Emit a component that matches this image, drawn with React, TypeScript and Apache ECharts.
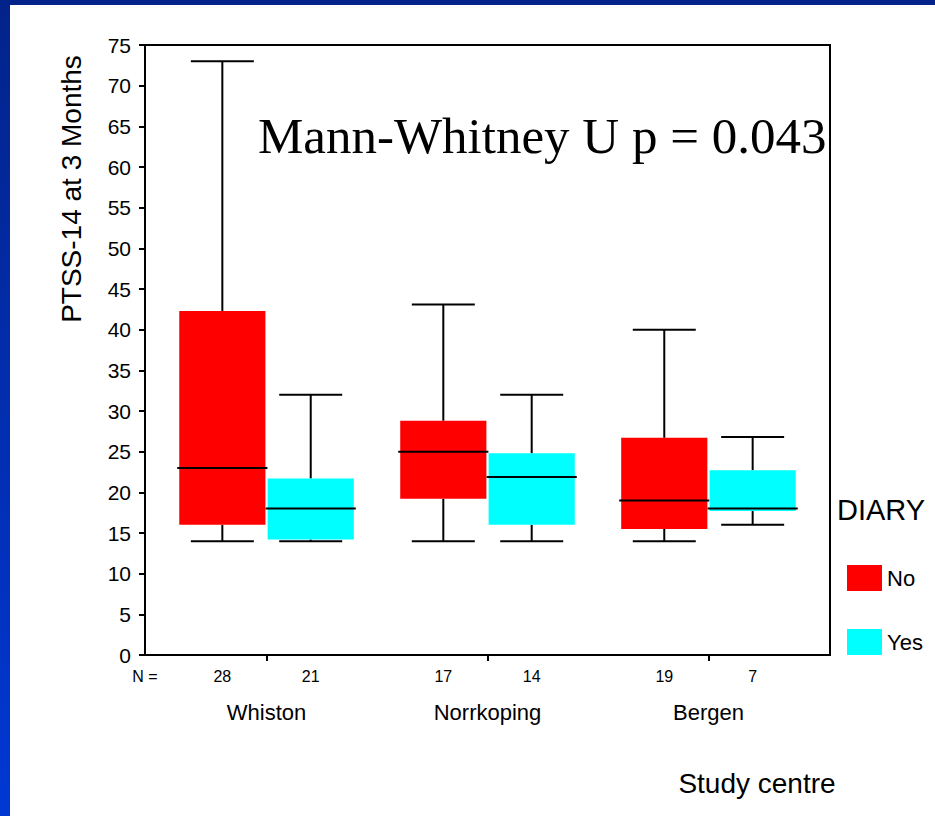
import React, { useEffect, useRef } from "react";
import * as echarts from "echarts";

// ---- data ----
const CATEGORIES = ["Whiston", "Norrkoping", "Bergen"];
const GROUPS = ["No", "Yes"];
const N_NO = [28, 17, 19];
const N_YES = [21, 14, 7];
// [min, q1, median, q3, max]
const NO_STATS = [
  [14, 16, 23, 42.3, 73],
  [14, 19.2, 25, 28.8, 43.1],
  [14, 15.5, 19, 26.7, 40],
];
const YES_STATS = [
  [14, 14.2, 18, 21.7, 32],
  [14, 16, 21.9, 24.8, 32],
  [16, 17.7, 18, 22.7, 26.8],
];
const Y_MIN = 0;
const Y_MAX = 75;
const Y_STEP = 5;
const ANNOTATION = "Mann-Whitney U p = 0.043";
const Y_NAME = "PTSS-14 at 3 Months";
const X_NAME = "Study centre";
const LEGEND_TITLE = "DIARY";

// ---- layout ----
const X_MIN = 0.45;
const X_MAX = 3.55;
const OFFSET = 0.2;
const BOX_W = 0.39;
const CAP_W = 0.285;
const SANS = "'Liberation Sans', Arial, sans-serif";
const SERIF = "'Liberation Serif', 'Times New Roman', serif";

const catPos = CATEGORIES.map((_, i) => i + 1);
const noData = NO_STATS.map((s, i) => [i + 1 - OFFSET, ...s]);
const yesData = YES_STATS.map((s, i) => [i + 1 + OFFSET, ...s]);

const nPositions: number[] = [X_MIN];
const nLabels: string[] = ["N ="];
CATEGORIES.forEach((_, i) => {
  nPositions.push(i + 1 - OFFSET, i + 1 + OFFSET);
  nLabels.push(String(N_NO[i]), String(N_YES[i]));
});

function renderBox(params: any, api: any) {
  const x = api.value(0);
  const mn = api.value(1);
  const q1 = api.value(2);
  const md = api.value(3);
  const q3 = api.value(4);
  const mx = api.value(5);
  const c = api.coord([x, md]);
  const cx = c[0];
  const yMin = api.coord([x, mn])[1];
  const yQ1 = api.coord([x, q1])[1];
  const yMd = c[1];
  const yQ3 = api.coord([x, q3])[1];
  const yMax = api.coord([x, mx])[1];
  const halfBox = api.size([BOX_W, 0])[0] / 2;
  const halfCap = api.size([CAP_W, 0])[0] / 2;
  const line = { stroke: "#000", lineWidth: 2 };
  return {
    type: "group",
    children: [
      {
        type: "line",
        shape: { x1: cx, y1: yQ3, x2: cx, y2: yMax },
        style: line,
      },
      {
        type: "line",
        shape: { x1: cx - halfCap, y1: yMax, x2: cx + halfCap, y2: yMax },
        style: line,
      },
      {
        type: "line",
        shape: { x1: cx, y1: yQ1, x2: cx, y2: yMin },
        style: line,
      },
      {
        type: "line",
        shape: { x1: cx - halfCap, y1: yMin, x2: cx + halfCap, y2: yMin },
        style: line,
      },
      {
        type: "rect",
        shape: { x: cx - halfBox, y: yQ3, width: halfBox * 2, height: yQ1 - yQ3 },
        style: { fill: api.visual("color") },
      },
      {
        type: "line",
        shape: { x1: cx - halfBox - 2, y1: yMd, x2: cx + halfBox + 2, y2: yMd },
        style: line,
      },
    ],
  };
}

export default function App() {
  const ref = useRef<HTMLDivElement>(null);
  useEffect(() => {
    if (!ref.current) return;
    const chart = echarts.init(ref.current, null, { renderer: "svg" });
    chart.setOption({
      animation: false,
      backgroundColor: "transparent",
      grid: {
        left: 145,
        top: 45,
        width: 685,
        height: 610,
        show: true,
        borderColor: "#000",
        borderWidth: 2,
        backgroundColor: "transparent",
      },
      xAxis: [
        {
          type: "value",
          position: "bottom",
          min: X_MIN,
          max: X_MAX,
          splitLine: { show: false },
          axisLine: { show: true, onZero: false, lineStyle: { color: "#000", width: 2 } },
          axisTick: {
            show: true,
            customValues: catPos,
            length: 6,
            lineStyle: { color: "#000", width: 2 },
          },
          axisLabel: {
            customValues: nPositions,
            margin: 13,
            fontSize: 16,
            fontFamily: SANS,
            color: "#000",
            formatter: (v: number) => {
              const i = nPositions.findIndex((p) => Math.abs(p - v) < 1e-6);
              return i >= 0 ? nLabels[i] : "";
            },
          },
        },
        {
          type: "value",
          position: "bottom",
          offset: 0,
          min: X_MIN,
          max: X_MAX,
          splitLine: { show: false },
          axisLine: { show: false },
          axisTick: { show: false },
          axisLabel: {
            customValues: catPos,
            margin: 46,
            fontSize: 22,
            fontFamily: SANS,
            color: "#000",
            formatter: (v: number) => {
              const i = catPos.findIndex((p) => Math.abs(p - v) < 1e-6);
              return i >= 0 ? CATEGORIES[i] : "";
            },
          },
        },
      ],
      yAxis: {
        type: "value",
        min: Y_MIN,
        max: Y_MAX,
        interval: Y_STEP,
        splitLine: { show: false },
        axisLine: { show: true, lineStyle: { color: "#000", width: 2 } },
        axisTick: { show: true, length: 6, lineStyle: { color: "#000", width: 2 } },
        axisLabel: { margin: 14, fontSize: 21, fontFamily: SANS, color: "#000" },
      },
      legend: {
        data: GROUPS,
        orient: "vertical",
        left: 847,
        top: 565,
        padding: 0,
        icon: "rect",
        itemWidth: 35,
        itemHeight: 26,
        itemGap: 38,
        textStyle: { fontSize: 22, fontFamily: SANS, color: "#000" },
      },
      graphic: [
        {
          type: "text",
          x: 258,
          y: 136,
          style: {
            text: ANNOTATION,
            font: `51px ${SERIF}`,
            fill: "#000",
            textAlign: "left",
            textVerticalAlign: "middle",
          },
        },
        {
          type: "text",
          x: 71,
          y: 189,
          rotation: Math.PI / 2,
          style: {
            text: Y_NAME,
            font: `28px ${SANS}`,
            fill: "#000",
            textAlign: "center",
            textVerticalAlign: "middle",
          },
        },
        {
          type: "text",
          x: 837,
          y: 510,
          style: {
            text: LEGEND_TITLE,
            font: `29px ${SANS}`,
            fill: "#000",
            textAlign: "left",
            textVerticalAlign: "middle",
          },
        },
        {
          type: "text",
          x: 757,
          y: 783,
          style: {
            text: X_NAME,
            font: `28px ${SANS}`,
            fill: "#000",
            textAlign: "center",
            textVerticalAlign: "middle",
          },
        },
      ],
      series: [
        {
          name: "No",
          type: "custom",
          xAxisIndex: 0,
          yAxisIndex: 0,
          itemStyle: { color: "#FF0000" },
          encode: { x: 0, y: [1, 2, 3, 4, 5] },
          renderItem: renderBox,
          data: noData,
        },
        {
          name: "Yes",
          type: "custom",
          xAxisIndex: 0,
          yAxisIndex: 0,
          itemStyle: { color: "#00FFFF" },
          encode: { x: 0, y: [1, 2, 3, 4, 5] },
          renderItem: renderBox,
          data: yesData,
        },
      ],
    });
    return () => chart.dispose();
  }, []);

  return (
    <div
      style={{
        position: "fixed",
        left: 0,
        top: 0,
        width: 935,
        height: 816,
        background: "linear-gradient(to bottom, #03238a, #0038d4)",
      }}
    >
      <div
        style={{
          position: "absolute",
          left: 10,
          top: 5,
          right: 0,
          bottom: 0,
          background: "#fff",
        }}
      />
      <div
        ref={ref}
        style={{ position: "absolute", left: 0, top: 0, width: 935, height: 816 }}
      />
    </div>
  );
}
